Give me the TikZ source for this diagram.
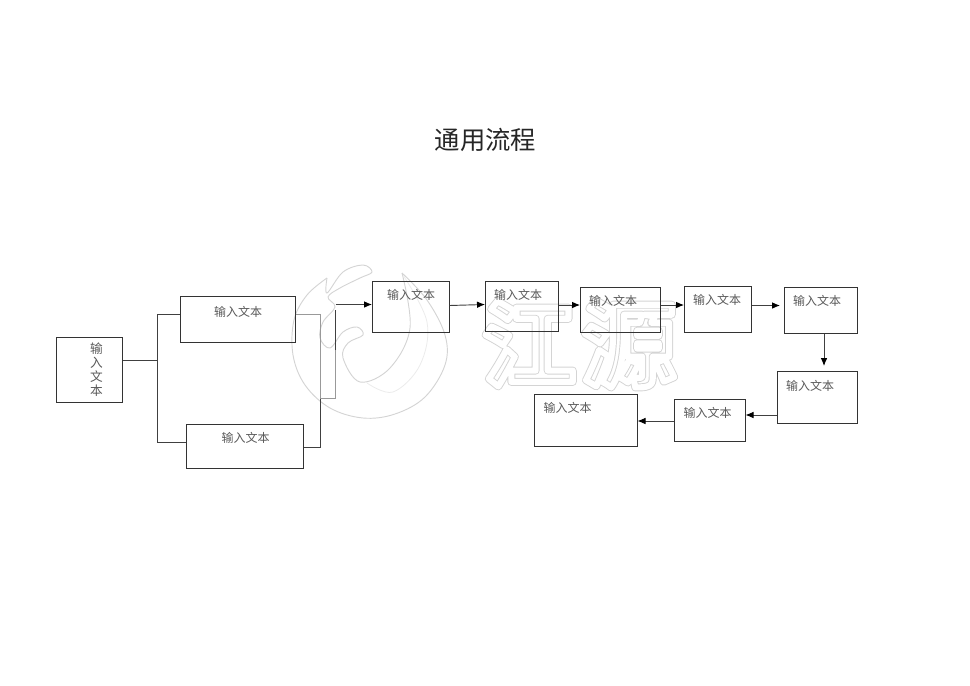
\documentclass[tikz,border=0pt]{standalone}
\usepackage{fontspec}
\usetikzlibrary{arrows.meta}
\setmainfont{Noto Sans CJK SC}
\newfontfamily\markfont{Noto Sans CJK SC}[BoldFont={Noto Sans CJK SC Bold}]
\newcommand{\markglyph}[2]{\fontsize{70}{70}\selectfont\bfseries\markfont\color{#1}\special{pdf:code 1 Tr 1 j #2 w}江\hspace{5pt}源\special{pdf:code 0 Tr}}
\tikzset{
  flowbox/.style={draw=black!80, line width=0.7pt, inner sep=0pt, outer sep=0pt},
  boxtext/.style={text=black!65, font=\fontsize{9}{10.5}\selectfont, inner sep=0pt},
  flowline/.style={draw=black!75, line width=0.7pt},
  flowarrow/.style={flowline, -{Latex[length=6pt,width=5pt,black]}},
  paleline/.style={draw=black!40, line width=0.6pt},
  markline/.style={draw=black!17, line width=0.7pt},
}
\begin{document}
\begin{tikzpicture}[x=0.75pt,y=-0.75pt]
\useasboundingbox (0,0) rectangle (970,685);

% Watermark
\draw[markline] plot[smooth, tension=0.6] coordinates {
  (402,273) (427,300) (445,335) (445,365) (425,397) (395,414) (363,418) (330,408) (305,385) (293,355) (294,320) (307,295) (327,278)
};
\draw[markline] plot[smooth, tension=0.6] coordinates {
  (327,278) (327,293) (343,272) (363,265) (372,272) (360,278) (340,288) (328,297) (335,307) (323,322) (320,338) (330,348) (343,332) (357,327) (363,335) (348,343) (343,358) (360,382) (390,368) (410,328) (402,273)
};
\draw[draw=black!8, line width=0.6pt] plot[smooth, tension=0.6] coordinates {
  (403,275) (427,322) (420,365) (393,392) (367,383)
};
\node[inner sep=0pt] (markback) at (579,344) {\markglyph{black!17}{6}};
\node[inner sep=0pt] (markfront) at (579,344) {\markglyph{white}{4.6}};

% Title
\node[text=black!85, font=\fontsize{19}{20}\selectfont, inner sep=0pt] (title) at (485.5,139.5) {通用流程};

% Boxes
\node[flowbox, minimum width={66.5*0.75pt}, minimum height={65.5*0.75pt}] (start) at (89.5,370) {};
\node[boxtext, align=center, font=\fontsize{9.5}{10.5}\selectfont] (starttext) at (96.5,370) {输\\入\\文\\本};
\foreach \name/\xa/\ya/\xb/\yb/\tx/\ty in {
  upper/180/296/295.5/342.5/238/311.5,
  lower/186/424/303.5/468.5/245.5/437.5,
  stepa/372/281/449.5/332.5/411/294.5,
  stepb/485/281/558.5/331.5/518/294.5,
  stepc/580/287/660.5/332.5/613/300.5,
  stepd/684/286/751.5/332.5/717/299.5,
  stepe/784/287/857.5/333.5/817/300.5,
  stepf/777/371/857.5/423.5/810/385.5,
  stepg/674/399/745.5/441.5/707.5/412.5,
  steph/534/394/637.5/446.5/567.5/407.5
} {
  \node[flowbox, minimum width={(\xb-\xa)*0.75pt}, minimum height={(\yb-\ya)*0.75pt}] (\name) at ({(\xa+\xb)/2},{(\ya+\yb)/2}) {};
  \node[boxtext] (\name text) at (\tx,\ty) {输入文本};
}

% Branches
\coordinate (joinmid) at (157,360);
\coordinate (jointop) at (157,314);
\coordinate (joinlow) at (157,442);
\coordinate (mergetop) at (320,314);
\coordinate (mergelow) at (320,447);
\coordinate (mergeout) at (320,398);
\coordinate (outlow) at (335.5,398);
\coordinate (outtop) at (335.5,310);
\coordinate (outmid) at (335.5,350);
\coordinate (outarrow) at (335.5,304.5);
\draw[flowline] (start.east |- joinmid) -- (joinmid);
\draw[flowline] (upper.west |- jointop) -- (jointop) -- (joinlow) -- (lower.west |- joinlow);
\draw[paleline] (upper.east |- mergetop) -- (mergetop) -- (mergeout);
\draw[flowline] (mergeout) -- (mergelow) -- (lower.east |- mergelow);
\draw[paleline] (mergeout) -- (outlow) -- (outmid);
\draw[flowline] (outmid) -- (outtop);

% Arrows
\draw[flowarrow] (outarrow) -- (stepa.west |- outarrow);
\draw[flowarrow] (stepa.east |- 0,305.5) -- (stepb.west |- 0,304.5);
\draw[flowarrow] (stepb.east |- 0,305) -- (stepc.west |- 0,305);
\draw[flowarrow] (stepc.east |- 0,305) -- (stepd.west |- 0,305);
\coordinate (tipe) at (780,305.5);
\draw[flowarrow] (stepd.east |- tipe) -- (tipe);
\coordinate (tipf) at (824,366);
\draw[flowarrow] (stepe.south -| tipf) -- (tipf);
\draw[flowarrow] (stepf.west |- 0,415) -- (stepg.east |- 0,415);
\draw[flowarrow] (stepg.west |- 0,421) -- (steph.east |- 0,421);
\end{tikzpicture}
\end{document}
